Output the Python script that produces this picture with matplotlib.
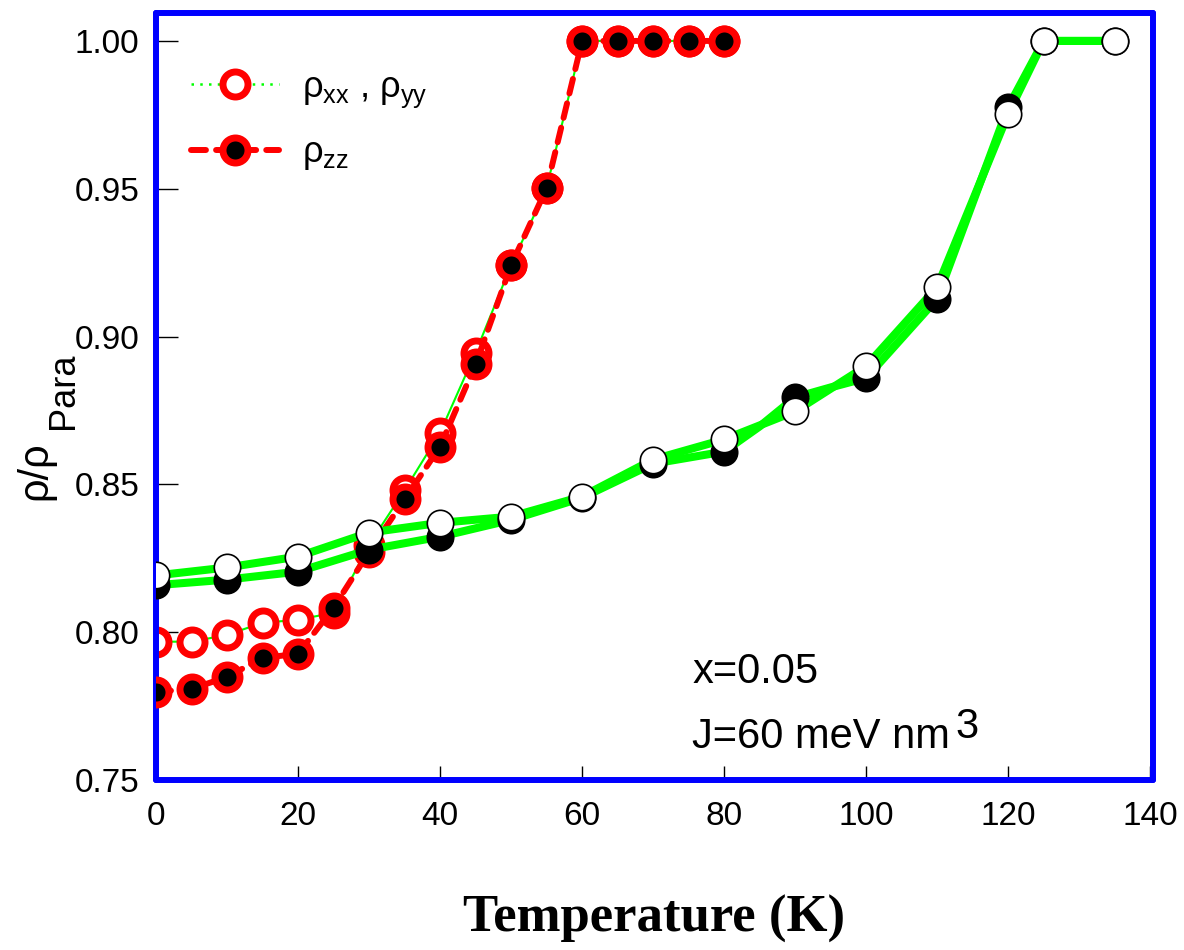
import matplotlib
matplotlib.use('Agg')
import matplotlib.pyplot as plt
import numpy as np
from matplotlib.lines import Line2D

plt.rcParams['font.family'] = ['Liberation Sans', 'DejaVu Sans']
plt.rcParams['mathtext.fontset'] = 'custom'
plt.rcParams['mathtext.rm'] = 'Liberation Sans'
plt.rcParams['mathtext.it'] = 'Liberation Sans'
plt.rcParams['mathtext.default'] = 'regular'

# ---- data ----
T_open_red = [0, 5, 10, 15, 20, 25, 30, 35, 40, 45, 50, 55, 60, 65, 70, 75, 80]
rho_xx = [0.7968, 0.7968, 0.7991, 0.8032, 0.8042, 0.8066, 0.8296, 0.8480, 0.8675,
          0.8946, 0.9241, 0.9502, 1.0, 1.0, 1.0, 1.0, 1.0]

T_fill_red = [0, 5, 10, 15, 20, 25, 30, 35, 40, 45, 50, 55, 60, 65, 70, 75, 80]
rho_zz = [0.7798, 0.7808, 0.7849, 0.7913, 0.7927, 0.8083, 0.8272, 0.8449, 0.8628,
          0.8906, 0.9241, 0.9502, 1.0, 1.0, 1.0, 1.0, 1.0]

T_black = [0, 10, 20, 30, 40, 50, 60, 70, 80, 85, 90, 95, 100, 110, 120, 125, 135]
rho_black = [0.8159, 0.8178, 0.8205, 0.8279, 0.8323, 0.8380, 0.8455, 0.8570, 0.8611,
             0.8696, 0.8794, 0.8828, 0.8860, 0.9128, 0.9776, 1.0, 1.0]
black_marked = [True, True, True, True, True, True, True, True, True,
                False, True, False, True, True, True, True, True]

T_white = [0, 10, 20, 30, 40, 50, 60, 70, 80, 90, 100, 110, 120, 125, 135]
rho_white = [0.8192, 0.8219, 0.8256, 0.8337, 0.8370, 0.8391, 0.8459, 0.8584, 0.8652,
             0.8747, 0.8900, 0.9167, 0.9753, 1.0, 1.0]

x_ticks = [0, 20, 40, 60, 80, 100, 120, 140]
y_ticks = [0.75, 0.80, 0.85, 0.90, 0.95, 1.00]
legend_labels = [r'$\rho_{xx}$ , $\rho_{yy}$', r'$\rho_{zz}$']

GREEN = '#00ff00'

fig = plt.figure(figsize=(11.84, 9.5), dpi=100)
ax = fig.add_axes([0.1318, 0.1789, 0.842, 0.8079])

# red series
ax.plot(T_open_red, rho_xx, color=GREEN, lw=1.5, marker='o', ms=18,
        mfc='white', mec='red', mew=5, zorder=2)
ax.plot(T_fill_red, rho_zz, color='red', lw=4.3, ls=(0, (2.5, 1.7)),
        dash_capstyle='round', marker='o', ms=18, mfc='black', mec='red',
        mew=5, zorder=3)

# green thick lines
ax.plot(T_black, rho_black, color=GREEN, lw=5.8, solid_joinstyle='round', zorder=4)
ax.plot(T_white, rho_white, color=GREEN, lw=5.8, solid_joinstyle='round', zorder=4)
ax.plot(T_black, rho_black, ls='none', marker='o', ms=19, mfc='black', mec='black',
        mew=1.2, markevery=black_marked, zorder=5)
ax.plot(T_white, rho_white, ls='none', marker='o', ms=19, mfc='white', mec='black',
        mew=1.2, zorder=6)

ax.set_xlim(0, 140.4)
ax.set_ylim(0.75, 1.0096)
ax.set_xticks(x_ticks)
ax.set_xticklabels([str(v) for v in x_ticks])
ax.set_yticks(y_ticks)
ax.set_yticklabels([f'{v:.2f}' for v in y_ticks])

for s in ax.spines.values():
    s.set_color('blue')
    s.set_linewidth(4.3)
    s.set_joinstyle('round')
    s.set_capstyle('round')

ax.tick_params(axis='both', direction='in', color='black', width=1,
               labelsize=24, top=False, right=False)
ax.tick_params(axis='y', length=15.5, pad=12)
ax.tick_params(axis='x', length=10, pad=15)

# legend (proxy handles reproduce the legend glyphs)
h1 = Line2D([], [], color=GREEN, lw=1.8, ls=(0, (1, 2.5)), marker='o', ms=18,
            mfc='white', mec='red', mew=5)
h2 = Line2D([], [], color='red', lw=4.3, ls=(0, (2.5, 1.7)), dash_capstyle='round',
            marker='o', ms=18, mfc='black', mec='red', mew=5)
ax.legend([h1, h2], legend_labels, loc='upper left', bbox_to_anchor=(0.035, 0.925),
          frameon=False, fontsize=26, handlelength=2.45, handletextpad=0.62,
          labelspacing=0.7, borderpad=0, borderaxespad=0, numpoints=1)

# annotations
ax.text(75.5, 0.7829, 'x=0.05', fontsize=30, va='baseline')
t2 = ax.text(75.5, 0.7608, 'J=60 meV nm', fontsize=30, va='baseline')
ax.annotate('3', xy=(1, 0), xycoords=t2, xytext=(4, 14), textcoords='offset points',
            fontsize=30, va='baseline', ha='left')

# axis labels
ax.set_xlabel('Temperature (K)', family=['Liberation Serif', 'DejaVu Serif'],
              fontweight='bold', fontsize=38)
ax.xaxis.set_label_coords(0.5, -0.149)
ax.xaxis.label.set_va('top')

fig.text(35 / 1184, 1 - 471 / 950, 'ρ/ρ', rotation=90, fontsize=30,
         ha='center', va='center')
fig.text(63 / 1184, 1 - 391 / 950, 'Para', rotation=90, fontsize=26,
         ha='center', va='center')

fig.savefig('out.png', dpi=100)
